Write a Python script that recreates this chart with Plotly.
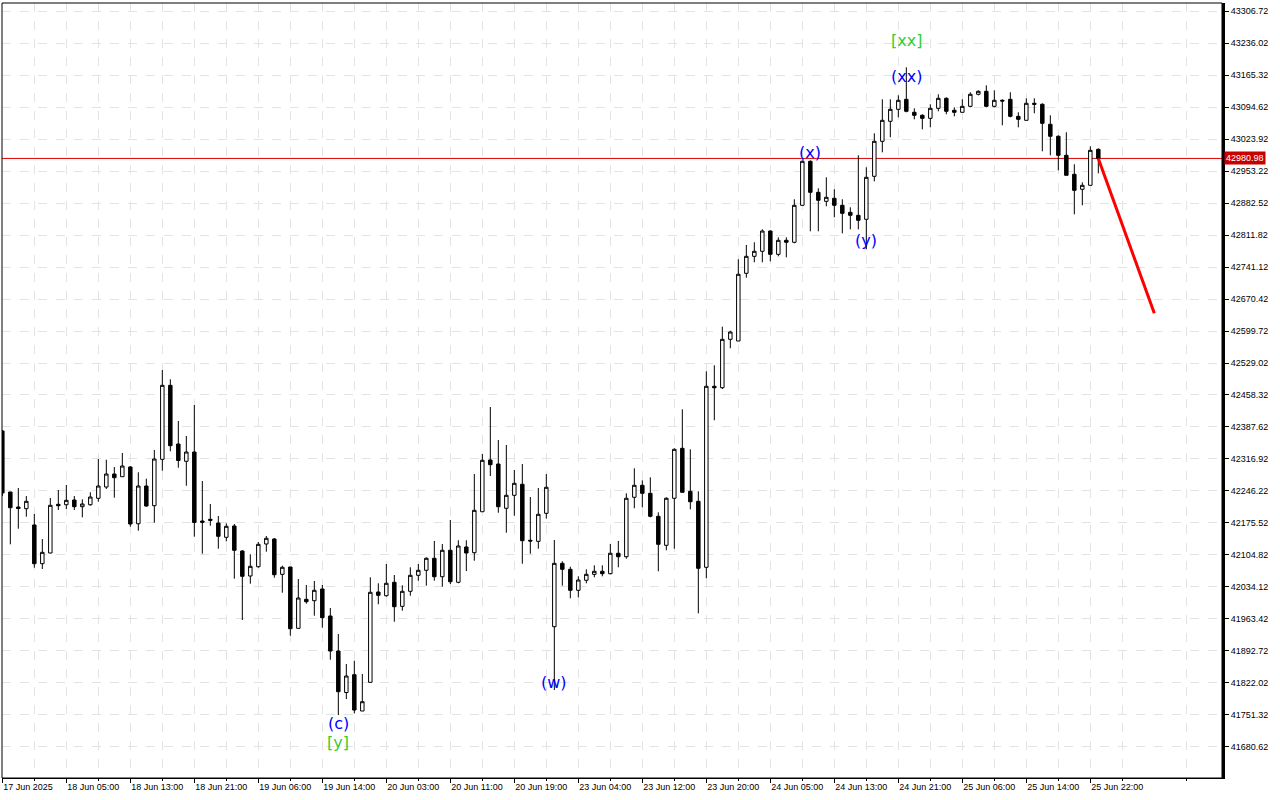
import plotly.graph_objects as go

# ---------------- data ----------------
opens = [
    42378.8, 42244.0, 42210.8, 42207.1, 42171.1, 42085.6, 42109.2, 42216.8, 42215.9, 42226.3,
    42211.5, 42215.9, 42230.1, 42255.0, 42283.7, 42277.8, 42299.2, 42173.9, 42257.2, 42213.7,
    42316.2, 42479.7, 42350.0, 42311.8, 42332.3, 42179.9, 42183.7, 42175.5, 42143.9, 42168.9,
    42113.6, 42058.4, 42078.9, 42129.1, 42140.1, 42062.1, 42078.3, 41942.8, 42006.9, 42003.8,
    42029.7, 41970.0, 41892.7, 41801.0, 41840.3, 41760.1, 41823.5, 42023.0, 42014.9, 42044.5,
    41991.4, 42024.6, 42059.9, 42071.0, 42097.5, 42056.8, 42115.2, 42044.5, 42122.5, 42109.9,
    42200.4, 42314.7, 42305.8, 42208.0, 42236.7, 42261.0, 42137.3, 42135.0, 42196.9, 41946.4,
    42086.4, 42073.2, 42026.8, 42048.9, 42062.1, 42068.8, 42063.5, 42108.6, 42101.0, 42232.3,
    42258.8, 42241.1, 42190.3, 42126.2, 42230.1, 42340.5, 42245.5, 42223.4, 42077.6, 42477.5,
    42474.4, 42581.3, 42577.6, 42727.2, 42764.7, 42775.8, 42820.6, 42769.1, 42800.1, 42795.7,
    42877.4, 42974.6, 42906.1, 42886.2, 42892.9, 42877.4, 42861.9, 42855.3, 42846.5, 42941.5,
    43018.8, 43063.0, 43089.5, 43111.6, 43082.9, 43076.3, 43069.6, 43091.7, 43113.8, 43087.3,
    43082.9, 43096.1, 43122.7, 43129.3, 43096.1, 43109.4, 43111.6, 43074.0, 43065.2, 43102.8,
    43100.6, 43056.4, 43029.9, 42987.9, 42945.9, 42912.8, 42921.6, 43001.1,
]
highs = [
    42381.0, 42244.0, 42252.8, 42235.1, 42195.4, 42140.1, 42230.7, 42248.4, 42259.4, 42235.1,
    42227.8, 42243.3, 42316.9, 42315.3, 42299.2, 42330.1, 42301.4, 42287.5, 42273.4, 42336.8,
    42513.5, 42493.0, 42400.8, 42367.7, 42436.2, 42268.3, 42217.5, 42190.9, 42174.8, 42173.3,
    42115.8, 42106.3, 42133.5, 42146.8, 42142.3, 42081.1, 42078.3, 42051.8, 42038.5, 42047.3,
    42038.5, 41987.7, 41930.2, 41864.0, 41871.2, 41841.9, 42055.5, 42042.3, 42084.9, 42060.6,
    42037.8, 42077.6, 42084.9, 42099.7, 42135.7, 42129.1, 42182.1, 42137.3, 42137.3, 42283.7,
    42327.9, 42431.8, 42358.9, 42347.8, 42292.6, 42305.8, 42232.9, 42252.8, 42283.7, 42137.9,
    42090.9, 42078.9, 42057.7, 42073.2, 42082.0, 42082.0, 42129.1, 42135.7, 42241.1, 42296.3,
    42269.8, 42276.4, 42199.1, 42232.3, 42340.5, 42426.7, 42338.3, 42245.5, 42510.6, 42523.9,
    42609.2, 42600.3, 42758.1, 42789.7, 42795.7, 42824.4, 42822.2, 42806.7, 42806.7, 42890.7,
    42976.8, 42976.8, 42915.0, 42939.3, 42912.8, 42890.7, 42873.0, 42987.9, 42961.4, 43036.5,
    43111.6, 43111.6, 43120.4, 43182.3, 43091.7, 43078.5, 43100.6, 43122.7, 43116.0, 43093.9,
    43111.6, 43127.1, 43131.5, 43142.5, 43131.5, 43111.6, 43127.1, 43082.9, 43113.8, 43113.8,
    43102.8, 43076.3, 43032.1, 43038.7, 42968.0, 42928.2, 43007.8, 43003.3,
]
lows = [
    42235.1, 42128.4, 42162.9, 42189.4, 42076.7, 42073.8, 42108.6, 42204.2, 42206.4, 42204.2,
    42188.1, 42213.7, 42222.5, 42250.6, 42231.4, 42277.8, 42167.3, 42158.5, 42211.5, 42176.1,
    42291.0, 42333.9, 42297.7, 42257.9, 42145.2, 42107.7, 42169.5, 42118.7, 42135.0, 42052.4,
    41961.2, 42041.4, 42076.7, 42112.1, 42054.6, 42021.5, 41926.5, 41942.8, 41997.2, 41970.7,
    41944.2, 41873.5, 41751.3, 41786.6, 41755.0, 41760.1, 41823.5, 41995.9, 42012.6, 41957.4,
    41981.7, 42014.9, 42048.0, 42037.0, 42048.0, 42034.7, 42040.7, 42042.3, 42069.4, 42092.2,
    42200.4, 42279.3, 42198.2, 42154.0, 42191.6, 42085.6, 42107.7, 42118.7, 42185.0, 41806.5,
    42037.0, 42009.1, 42011.3, 42042.3, 42055.5, 42057.7, 42062.1, 42077.6, 42096.6, 42208.0,
    42210.2, 42188.1, 42068.8, 42115.2, 42118.7, 42243.3, 42205.7, 41976.0, 42053.3, 42402.4,
    42471.5, 42561.5, 42577.6, 42717.4, 42751.5, 42751.5, 42753.7, 42764.7, 42762.5, 42793.5,
    42877.4, 42820.0, 42820.0, 42875.2, 42850.9, 42815.5, 42824.4, 42824.4, 42780.2, 42930.4,
    42994.5, 43027.6, 43071.8, 43082.9, 43067.4, 43045.3, 43049.7, 43085.1, 43078.5, 43074.0,
    43082.9, 43093.9, 43120.4, 43093.9, 43093.9, 43054.2, 43071.8, 43049.7, 43065.2, 43080.7,
    42996.7, 42987.9, 42954.7, 42943.7, 42857.5, 42877.4, 42921.6, 42948.1,
]
closes = [
    42241.8, 42209.3, 42207.5, 42223.4, 42085.6, 42110.7, 42214.6, 42213.7, 42225.6, 42211.5,
    42217.5, 42232.9, 42257.2, 42283.7, 42275.6, 42301.4, 42173.3, 42257.2, 42213.0, 42316.9,
    42479.7, 42346.3, 42313.6, 42332.3, 42176.6, 42177.0, 42181.4, 42146.1, 42168.2, 42115.2,
    42057.7, 42079.8, 42128.4, 42141.7, 42061.3, 42077.6, 41941.9, 42009.8, 42001.6, 42026.8,
    41966.2, 41892.7, 41802.8, 41837.4, 41762.3, 41780.7, 42022.4, 42015.7, 42042.3, 41990.6,
    42024.6, 42059.9, 42071.0, 42097.5, 42056.8, 42115.2, 42045.8, 42124.7, 42109.2, 42203.5,
    42314.0, 42304.3, 42211.5, 42236.7, 42263.2, 42136.4, 42135.7, 42194.7, 42254.4, 42086.4,
    42073.2, 42026.8, 42049.5, 42062.1, 42068.8, 42063.5, 42108.6, 42101.0, 42230.1, 42258.8,
    42241.1, 42190.3, 42128.4, 42230.1, 42338.3, 42243.3, 42222.5, 42075.4, 42477.5, 42474.4,
    42581.3, 42597.5, 42725.0, 42764.7, 42775.8, 42820.6, 42769.1, 42800.1, 42795.7, 42877.4,
    42974.6, 42906.1, 42888.5, 42895.1, 42877.4, 42859.7, 42855.3, 42844.3, 42939.3, 43018.8,
    43065.2, 43089.5, 43109.4, 43085.1, 43076.3, 43069.6, 43091.7, 43113.8, 43085.1, 43082.9,
    43096.1, 43122.7, 43129.3, 43096.1, 43109.4, 43107.8, 43074.0, 43067.4, 43102.8, 43100.6,
    43058.6, 43029.9, 42987.9, 42943.7, 42910.5, 42921.6, 42998.9, 42980.98,
]
bar_index = list(range(len(closes)))

x_tick_positions = [0, 8, 16, 24, 32, 40, 48, 56, 64, 72, 80, 88, 96, 104, 112, 120, 128, 136]
x_tick_labels = [
    "17 Jun 2025", "18 Jun 05:00", "18 Jun 13:00", "18 Jun 21:00", "19 Jun 06:00",
    "19 Jun 14:00", "20 Jun 03:00", "20 Jun 11:00", "20 Jun 19:00", "23 Jun 04:00",
    "23 Jun 12:00", "23 Jun 20:00", "24 Jun 05:00", "24 Jun 13:00", "24 Jun 21:00",
    "25 Jun 06:00", "25 Jun 14:00", "25 Jun 22:00",
]
y_tick_values = [
    41680.62, 41751.32, 41822.02, 41892.72, 41963.42, 42034.12, 42104.82, 42175.52,
    42246.22, 42316.92, 42387.62, 42458.32, 42529.02, 42599.72, 42670.42, 42741.12,
    42811.82, 42882.52, 42953.22, 43023.92, 43094.62, 43165.32, 43236.02, 43306.72,
]

current_price = 42980.98
forecast_x = [137, 144]
forecast_y = [42980.98, 42638.8]

wave_labels = ["(c)", "[y]", "(w)", "(x)", "(y)", "(xx)", "[xx]"]
wave_x = [42, 42, 69, 101, 108, 113, 113]
wave_y = [41733.6, 41691.6, 41824.2, 42995.2, 42800.7, 43163.1, 43242.6]
wave_colors = ["#0000FF", "#32CD32", "#0000FF", "#0000FF", "#0000FF", "#0000FF", "#32CD32"]

# ---------------- figure ----------------
fig = go.Figure()

fig.add_trace(go.Candlestick(
    x=bar_index, open=opens, high=highs, low=lows, close=closes,
    increasing=dict(fillcolor="#FFFFFF", line=dict(color="#000000", width=1)),
    decreasing=dict(fillcolor="#000000", line=dict(color="#000000", width=1)),
    whiskerwidth=0, showlegend=False, hoverinfo="skip",
))

fig.add_trace(go.Scatter(
    x=forecast_x, y=forecast_y, mode="lines",
    line=dict(color="#FF0000", width=3), showlegend=False, hoverinfo="skip",
))

grid_color = "#E3E3E3"

fig.update_layout(
    width=1280, height=800,
    margin=dict(l=2, r=58, t=3, b=22),
    paper_bgcolor="#FFFFFF", plot_bgcolor="#FFFFFF",
    boxgap=0.38,
    showlegend=False,
    font=dict(family="Liberation Sans, Arial, sans-serif", size=9, color="#000000"),
    xaxis=dict(
        range=[-0.04, 152.46],
        rangeslider=dict(visible=False),
        tickmode="array", tickvals=x_tick_positions, ticktext=x_tick_labels,
        ticks="outside", ticklen=4, tickcolor="#000000",
        ticklabelposition="outside right",
        showgrid=True, gridcolor=grid_color, griddash="dash", gridwidth=1,
        minor=dict(tickmode="linear", tick0=4, dtick=8, ticks="outside", ticklen=2,
                   tickcolor="#000000", showgrid=True, gridcolor=grid_color, griddash="dash"),
        showline=True, linecolor="#000000", linewidth=1,
        zeroline=False, fixedrange=True,
        tickfont=dict(family="Liberation Sans, Arial, sans-serif", size=9, color="#000000"),
    ),
    yaxis=dict(
        range=[41612.1, 43324.4],
        side="right",
        tickmode="array", tickvals=y_tick_values,
        ticktext=[f"{v:.2f}" for v in y_tick_values],
        ticks="outside", ticklen=4, tickcolor="#000000",
        showgrid=True, gridcolor=grid_color, griddash="dash", gridwidth=1,
        showline=True, linecolor="#000000", linewidth=3,
        zeroline=False, fixedrange=True,
        tickfont=dict(family="Liberation Sans, Arial, sans-serif", size=9, color="#000000"),
    ),
    shapes=[
        dict(type="rect", xref="paper", yref="paper", x0=0, x1=1, y0=0, y1=1,
             line=dict(color="#000000", width=1), fillcolor="rgba(0,0,0,0)", layer="above"),
        dict(type="line", xref="paper", yref="y", x0=0, x1=1, y0=current_price, y1=current_price,
             line=dict(color="#E00000", width=1), layer="below"),
    ],
)

annotations = []
for txt, xv, yv, col in zip(wave_labels, wave_x, wave_y, wave_colors):
    annotations.append(dict(
        x=xv, y=yv, xref="x", yref="y", text=txt, showarrow=False,
        font=dict(family="DejaVu Sans", size=16, color=col),
        xanchor="center", yanchor="middle",
    ))
annotations.append(dict(
    x=1, y=current_price, xref="paper", yref="y", text=f"{current_price:.2f}",
    showarrow=False, xanchor="left", yanchor="middle", xshift=2,
    bgcolor="#C80000", borderpad=1,
    font=dict(family="Liberation Sans, Arial, sans-serif", size=9, color="#FFFFFF"),
))
fig.update_layout(annotations=annotations)

fig.write_html("out.html", config={"displayModeBar": False},
               post_script="document.body.style.margin='0';document.body.style.overflow='hidden';")
